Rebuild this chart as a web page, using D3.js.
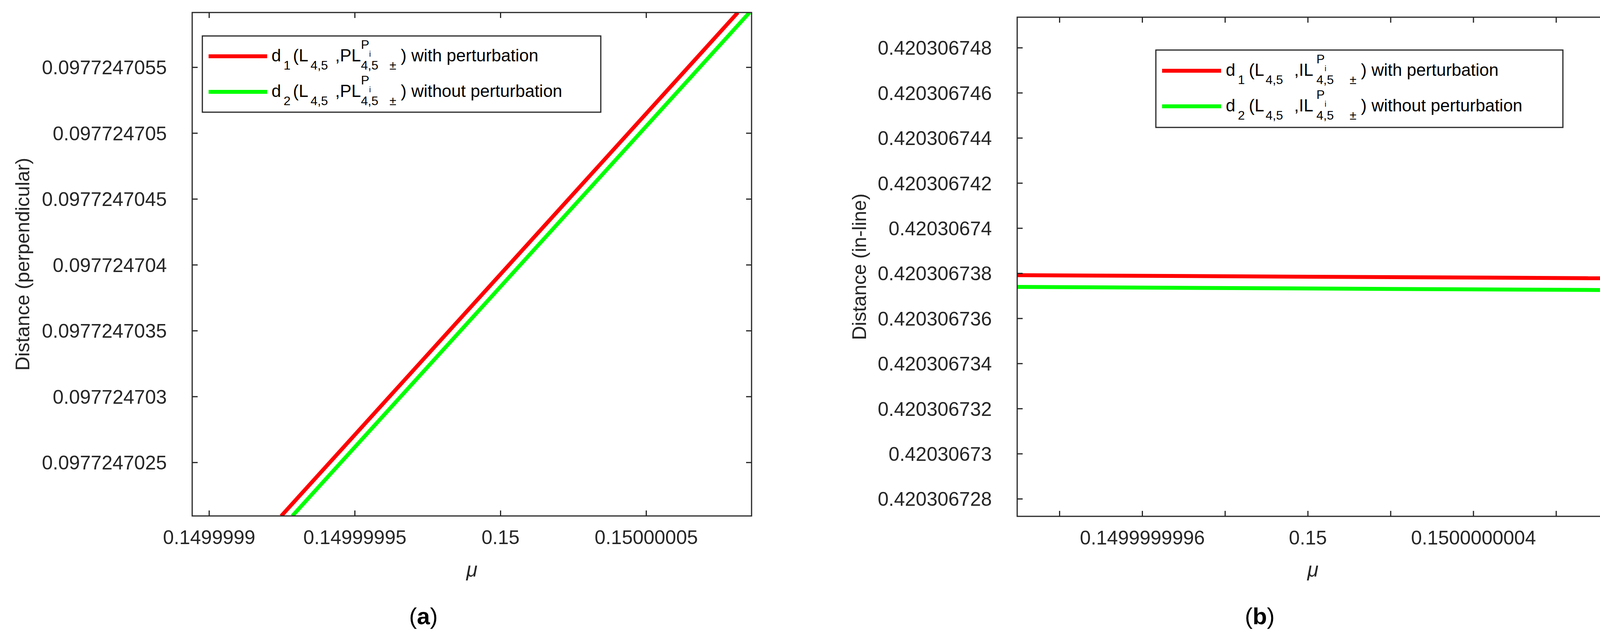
<!DOCTYPE html>
<html>
<head>
<meta charset="utf-8">
<script src="https://cdn.jsdelivr.net/npm/d3@7"></script>
<style>
  body { margin: 0; background: #fff; }
  text { font-family: "Liberation Sans", Arial, sans-serif; fill: #262626; }
</style>
</head>
<body>
<div id="chart"></div>
<script>
// ---- data ----
// panel (a): perpendicular distance
var muA = [0.1499999248, 0.1500000815];          // red end points
var muA2 = [0.1499999286, 0.1500000855];         // green end points
var perpWith = [0.0977247020930, 0.0977247059150];
var perpWithout = [0.0977247020930, 0.0977247059150];
var xTicksA = [0.1499999, 0.14999995, 0.15, 0.15000005];
var xLabelsA = ["0.1499999", "0.14999995", "0.15", "0.15000005"];
var yTicksA = [0.0977247025, 0.097724703, 0.0977247035, 0.097724704, 0.0977247045, 0.097724705, 0.0977247055];
var yLabelsA = ["0.0977247025", "0.097724703", "0.0977247035", "0.097724704", "0.0977247045", "0.097724705", "0.0977247055"];

// panel (b): in-line distance
var muB = [0.149999999298, 0.150000000727];
var inlineWith = [0.420306737913, 0.420306737774];
var inlineWithout = [0.420306737391, 0.420306737252];
var xTicksB = [0.1499999994, 0.1499999996, 0.1499999998, 0.15, 0.1500000002, 0.1500000004, 0.1500000006];
var xLabelsB = ["", "0.1499999996", "", "0.15", "", "0.1500000004", ""];
var yTicksB = [0.420306728, 0.42030673, 0.420306732, 0.420306734, 0.420306736, 0.420306738,
               0.42030674, 0.420306742, 0.420306744, 0.420306746, 0.420306748];
var yLabelsB = ["0.420306728", "0.42030673", "0.420306732", "0.420306734", "0.420306736", "0.420306738",
                "0.42030674", "0.420306742", "0.420306744", "0.420306746", "0.420306748"];

var svg = d3.select("#chart").append("svg")
    .attr("width", 4146)
    .attr("height", 1622);

function panel(opt) {
    var x = d3.scaleLinear().domain(opt.xDomain).range([opt.left, opt.right]);
    var y = d3.scaleLinear().domain(opt.yDomain).range([opt.bottom, opt.top]);
    var g = svg.append("g");
    var clipId = "clip" + opt.id;
    g.append("clipPath").attr("id", clipId).append("rect")
        .attr("x", opt.left).attr("y", opt.top)
        .attr("width", opt.right - opt.left).attr("height", opt.bottom - opt.top);

    // series
    var line = d3.line().x(function(d) { return x(d[0]); }).y(function(d) { return y(d[1]); });
    opt.series.forEach(function(s) {
        g.append("path")
            .datum(d3.zip(s.mu, s.values))
            .attr("clip-path", "url(#" + clipId + ")")
            .attr("d", line)
            .attr("fill", "none")
            .attr("stroke", s.color)
            .attr("stroke-width", 10);
    });

    // box
    g.append("rect")
        .attr("x", opt.left).attr("y", opt.top)
        .attr("width", opt.right - opt.left).attr("height", opt.bottom - opt.top)
        .attr("fill", "none").attr("stroke", "#262626").attr("stroke-width", 3);

    // x ticks (inward, mirrored)
    var xb = g.append("g").attr("transform", "translate(0," + opt.bottom + ")")
        .call(d3.axisBottom(x).tickValues(opt.xTicks).tickSizeInner(-14).tickSizeOuter(0)
              .tickFormat(function(d, i) { return opt.xLabels[i]; }));
    var xt = g.append("g").attr("transform", "translate(0," + opt.top + ")")
        .call(d3.axisTop(x).tickValues(opt.xTicks).tickSizeInner(-14).tickSizeOuter(0).tickFormat(""));
    var yl = g.append("g").attr("transform", "translate(" + opt.left + ",0)")
        .call(d3.axisLeft(y).tickValues(opt.yTicks).tickSizeInner(-14).tickSizeOuter(0)
              .tickFormat(function(d, i) { return opt.yLabels[i]; }));
    var yr = g.append("g").attr("transform", "translate(" + opt.right + ",0)")
        .call(d3.axisRight(y).tickValues(opt.yTicks).tickSizeInner(-14).tickSizeOuter(0).tickFormat(""));
    [xb, xt, yl, yr].forEach(function(a) {
        a.select(".domain").remove();
        a.selectAll("line").attr("stroke", "#262626").attr("stroke-width", 3);
        a.selectAll("text").attr("font-size", 50).attr("fill", "#262626")
            .attr("font-family", "Liberation Sans, Arial, sans-serif");
    });
    xb.selectAll("text").attr("y", 36).attr("dy", "0.71em");
    yl.selectAll("text").attr("x", -65).attr("dy", "0.36em");

    // axis titles
    g.append("text")
        .attr("x", (opt.left + opt.right) / 2).attr("y", 1475)
        .attr("text-anchor", "middle").attr("font-size", 52)
        .attr("font-style", "italic").attr("font-family", "DejaVu Serif, serif")
        .text("\u03BC");
    g.append("text")
        .attr("transform", "translate(" + opt.yTitleX + "," + (opt.top + opt.bottom) / 2 + ") rotate(-90)")
        .attr("text-anchor", "middle").attr("dy", "0.35em").attr("font-size", 50)
        .text(opt.yTitle);
    var cap = g.append("text")
        .attr("x", opt.capX).attr("y", 1597)
        .attr("text-anchor", "middle").attr("font-size", 60)
        .attr("font-family", "Liberation Serif, Times New Roman, serif")
        .style("fill", "#000");
    cap.append("tspan").text("(");
    cap.append("tspan").attr("font-weight", "bold").text(opt.cap);
    cap.append("tspan").text(")");

    // legend
    var lg = opt.legend;
    g.append("rect")
        .attr("x", lg.x0).attr("y", lg.y0).attr("width", lg.x1 - lg.x0).attr("height", lg.y1 - lg.y0)
        .attr("fill", "#fff").attr("stroke", "#262626").attr("stroke-width", 3);
    opt.series.forEach(function(s, i) {
        var ly = lg.rows[i];
        g.append("line")
            .attr("x1", lg.sx0).attr("x2", lg.sx1).attr("y1", ly).attr("y2", ly)
            .attr("stroke", s.color).attr("stroke-width", 10);
        var bx = lg.tx, by = ly + 13;
        var parts = [
            [0, 0, 44, "d"],
            [31, 21, 32, s.sub],
            [lg.o[0], 0, 44, "(L"],
            [lg.o[1], 21, 32, "4,5"],
            [lg.o[2], 0, 44, opt.lname],
            [lg.o[3], -32, 32, "P"],
            [lg.o[3] + 21, -12, 20, "i"],
            [lg.o[3], 21, 32, "4,5"],
            [lg.o[4], 21, 32, "\u00B1"],
            [lg.o[5], 0, 44, ") " + s.label]
        ];
        parts.forEach(function(p) {
            g.append("text")
                .attr("x", bx + p[0]).attr("y", by + p[1])
                .attr("font-size", p[2]).style("fill", "#000")
                .text(p[3]);
        });
    });
}

panel({
    id: "a", left: 492, right: 1924, top: 32, bottom: 1320,
    xDomain: [0.1499999 - 5.76e-9, 0.1500000862],
    yDomain: [0.0977247025 - 4.07e-10, 0.0977247055 + 4.15e-10],
    xTicks: xTicksA, xLabels: xLabelsA, yTicks: yTicksA, yLabels: yLabelsA,
    series: [
        {mu: muA, values: perpWith, color: "#ff0000", sub: "1", label: "with perturbation"},
        {mu: muA2, values: perpWithout, color: "#00ff00", sub: "2", label: "without perturbation"}
    ],
    yTitle: "Distance (perpendicular)", yTitleX: 57, cap: "a", capX: 1084,
    lname: ",PL",
    legend: {x0: 518, x1: 1538, y0: 92, y1: 287, rows: [144, 235], sx0: 534, sx1: 684, tx: 695,
             o: [55, 100, 163, 229, 302, 331]}
});

panel({
    id: "b", left: 2604, right: 4118, top: 44, bottom: 1321,
    xDomain: [muB[0], muB[1]],
    yDomain: [0.420306728 - 0.78e-9, 0.420306748 + 1.35e-9],
    xTicks: xTicksB, xLabels: xLabelsB, yTicks: yTicksB, yLabels: yLabelsB,
    series: [
        {mu: muB, values: inlineWith, color: "#ff0000", sub: "1", label: "with perturbation"},
        {mu: muB, values: inlineWithout, color: "#00ff00", sub: "2", label: "without perturbation"}
    ],
    yTitle: "Distance (in-line)", yTitleX: 2199, cap: "b", capX: 3225,
    lname: ",IL",
    legend: {x0: 2959, x1: 4001, y0: 128, y1: 326, rows: [181, 272], sx0: 2975, sx1: 3126, tx: 3138,
             o: [59, 102, 175, 232, 317, 346]}
});
</script>
</body>
</html>
